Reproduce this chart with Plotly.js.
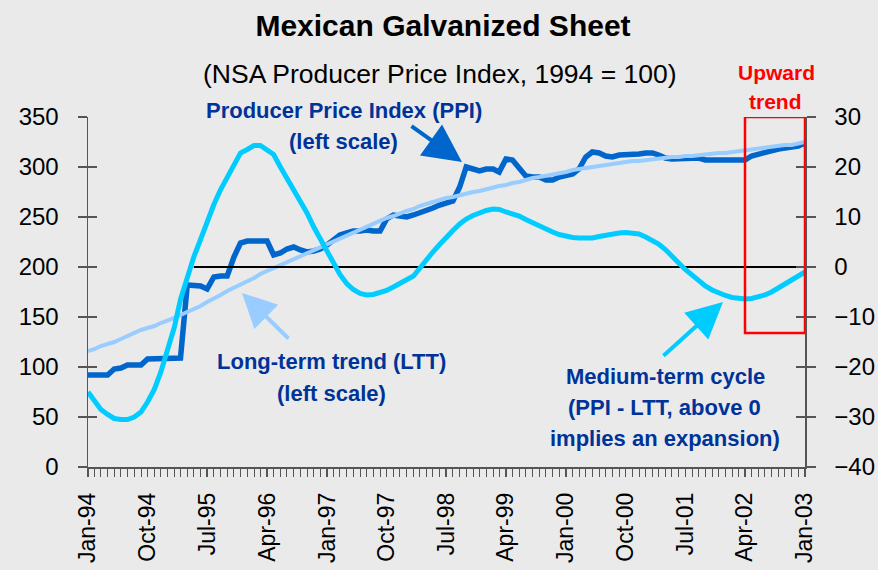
<!DOCTYPE html>
<html>
<head>
<meta charset="utf-8">
<script src="https://cdn.plot.ly/plotly-3.0.1.min.js"></script>
<style>html,body{margin:0;padding:0;background:#EAEAEA;}#chart{width:878px;height:570px;}</style>
</head>
<body>
<div id="chart"></div>
<script>
// ---- data (monthly, Jan-94 .. Jan-03) ----
const startYear = 1994;
const nMonths = 109;
const months = [];
for (let i = 0; i < nMonths; i++) {
  const y = startYear + Math.floor(i / 12), m = (i % 12) + 1;
  months.push(y + '-' + String(m).padStart(2, '0') + '-01');
}

// Producer Price Index (left scale)
const ppi = [
  92, 92, 92, 92, 98, 99, 102, 102, 102, 108, 108, 108,
  108, 108, 109, 182, 182, 181, 178, 190, 191, 191, 210, 224,
  226, 226, 226, 226, 212, 214, 218, 220, 217, 215, 216, 218,
  222, 228, 232, 234, 236, 236, 237, 236, 236, 248, 252, 251,
  250, 252, 254, 256, 259, 262, 264, 266, 280, 300, 298, 296,
  298, 298, 295, 308, 307, 298, 291, 290, 290, 287, 287, 290,
  292, 293, 298, 310, 315, 314, 311, 310, 312, 312, 312, 313,
  314, 314, 312, 309, 308, 308, 308, 309, 309, 307, 307, 307,
  307, 307, 307, 307, 311, 313, 315, 316, 318, 319, 320, 321,
  324
];

// Long-term trend (left scale)
const ltt = [
  116, 118, 121, 123, 125, 128, 131, 134, 137, 139, 141, 144,
  146, 149, 152, 155, 158, 161, 165, 168, 172, 176, 179, 182,
  186, 189, 193, 196, 199, 202, 205, 208, 211, 214, 217, 220,
  223, 226, 229, 232, 235, 238, 241, 244, 246, 249, 251, 254,
  256, 258, 261, 263, 265, 267, 269, 270, 272, 273, 275, 276,
  278, 279, 281, 282, 284, 285, 287, 289, 290, 291, 293, 294,
  295, 297, 298, 299, 300, 301, 302, 303, 304, 305, 306, 306,
  307, 308, 308, 309, 310, 310, 311, 311, 312, 312, 313, 314,
  314, 315, 316, 316, 317, 318, 319, 320, 321, 322, 322, 323,
  325
];

// Medium-term cycle, PPI - LTT (right scale)
const cycle = [
  -25, -27, -28.5, -29.5, -30.3, -30.5, -30.5, -30, -29, -27, -24.5, -21,
  -16.5, -12, -6.5, -2, 2, 5.5, 9, 12.5, 15.5, 18, 20.5, 22.8,
  23.5, 24.3, 24.3, 23.5, 22.5, 20, 17.8, 15.5, 13.2, 10.8, 8, 5.5,
  3, 0.5, -1.5, -3.3, -4.5, -5.3, -5.6, -5.5, -5.2, -4.7, -4, -3.3,
  -2.5, -1.8, -0.3, 1.5, 3, 4.5, 6, 7.3, 8.6, 9.6, 10.3, 10.9,
  11.3, 11.6, 11.5, 11, 10.6, 10.2, 9.5, 8.8, 8.1, 7.5, 7, 6.5,
  6.1, 5.9, 5.8, 5.8, 5.8, 6.1, 6.4, 6.7, 6.8, 6.9, 6.8, 6.6,
  6, 5.2, 4.6, 3.5, 2, 0.8, -0.5, -1.7, -2.9, -3.8, -4.6, -5.2,
  -5.7, -6.1, -6.3, -6.4, -6.3, -6, -5.6, -5, -4.2, -3.3, -2.6, -1.7,
  -1
];

// zero reference line on right scale
const zeroLineX = ['1995-05-01', '2003-01-01'];
const zeroLineY = [0, 0];

// "Upward trend" box (dates / right-scale values)
const boxX = ['2002-04-01', '2003-01-01'];
const boxY = [-13.2, 30];

// x tick labels (every 9 months)
const tickDates = ['1994-01-01','1994-10-01','1995-07-01','1996-04-01','1997-01-01','1997-10-01',
  '1998-07-01','1999-04-01','2000-01-01','2000-10-01','2001-07-01','2002-04-01','2003-01-01'];
const tickLabels = ['Jan-94','Oct-94','Jul-95','Apr-96','Jan-97','Oct-97','Jul-98','Apr-99',
  'Jan-00','Oct-00','Jul-01','Apr-02','Jan-03'];

const leftRange = [0, 350];
const rightRange = [-40, 30];

// ---- styling ----
const FONT = 'Liberation Sans, Arial, sans-serif';
const LABEL = '#003399';
const AX = '#555555';

const L = 88, R = 73, T = 117, B = 103, W = 878, H = 570;
const PW = W - L - R, PH = H - T - B;
const px = v => (v - L) / PW;
const py = v => (H - B - v) / PH;

const traces = [
  {x: zeroLineX, y: zeroLineY, yaxis: 'y2', mode: 'lines', line: {color: '#000000', width: 2},
   hoverinfo: 'skip', showlegend: false},
  {x: months, y: ppi, mode: 'lines', name: 'PPI', line: {color: '#0066CC', width: 5.5}, cliponaxis: false},
  {x: months, y: ltt, mode: 'lines', name: 'LTT', line: {color: '#99CCFF', width: 4}, cliponaxis: false},
  {x: months, y: cycle, yaxis: 'y2', mode: 'lines', name: 'Cycle', line: {color: '#00CCFF', width: 5}, cliponaxis: false},
  {x: [months[0]], y: [null], yaxis: 'y3', mode: 'lines', hoverinfo: 'skip', showlegend: false},
  {x: [months[0]], y: [null], yaxis: 'y4', mode: 'lines', hoverinfo: 'skip', showlegend: false}
];

function txt(x, y, t, size, color, bold) {
  return {xref: 'paper', yref: 'paper', x: px(x), y: py(y), xanchor: 'center', yanchor: 'middle',
    text: bold ? '<b>' + t + '</b>' : t, showarrow: false,
    font: {family: FONT, size: size, color: color}};
}
function arrow(tipX, tipY, tailX, tailY, color, size) {
  return {xref: 'paper', yref: 'paper', x: px(tipX), y: py(tipY), ax: tailX - tipX, ay: tailY - tipY,
    text: '', showarrow: true, arrowhead: 2, arrowsize: size, arrowwidth: 4, arrowcolor: color,
    standoff: 0, startstandoff: 0};
}

const annotations = [
  txt(440, 74, '(NSA Producer Price Index, 1994 = 100)', 26.5, '#000000', false),
  txt(344, 110, 'Producer Price Index (PPI)', 22, LABEL, true),
  txt(343, 141, '(left scale)', 22, LABEL, true),
  txt(331, 361, 'Long-term trend (LTT)', 22, LABEL, true),
  txt(331, 393, '(left scale)', 22, LABEL, true),
  txt(665, 376, 'Medium-term cycle', 22, LABEL, true),
  txt(664, 407, '(PPI - LTT, above 0', 22, LABEL, true),
  txt(665, 438, 'implies an expansion)', 22, LABEL, true),
  txt(776, 72, 'Upward', 21, '#FF0000', true),
  txt(775, 102, 'trend', 21, '#FF0000', true),
  arrow(462, 162, 410, 125, '#0066CC', 1.9),
  arrow(242, 293, 290, 340, '#99CCFF', 1.7),
  arrow(723, 302, 662, 357, '#00CCFF', 1.8)
];

const yTickCommon = {tickfont: {family: FONT, size: 24, color: '#000000'}, ticks: 'outside', ticklen: 9,
  tickwidth: 1.5, tickcolor: AX, showline: true, linecolor: AX, linewidth: 1.5, showgrid: false,
  zeroline: false, ticklabelstandoff: 14, fixedrange: true};

const layout = {
  width: W, height: H,
  margin: {l: L, r: R, t: T, b: B, pad: 0},
  paper_bgcolor: '#EAEAEA', plot_bgcolor: '#EAEAEA',
  showlegend: false,
  title: {text: '<b>Mexican Galvanized Sheet</b>', font: {family: FONT, size: 30, color: '#000000'},
    xref: 'paper', x: px(443), xanchor: 'center', yref: 'container', y: 1 - 25 / H, yanchor: 'middle'},
  xaxis: {type: 'date', range: [months[0], months[nMonths - 1]], tickvals: tickDates, ticktext: tickLabels,
    tickangle: -90, tickfont: {family: FONT, size: 23, color: '#000000'},
    ticks: 'outside', ticklen: 8, tickwidth: 1.5, tickcolor: AX,
    minor: {dtick: 'M1', tick0: months[0], ticks: 'outside', ticklen: 8, tickwidth: 1, tickcolor: AX},
    showline: true, linecolor: AX, linewidth: 1.5, showgrid: false, zeroline: false,
    ticklabelstandoff: 7, fixedrange: true},
  yaxis: Object.assign({range: leftRange, dtick: 50, tick0: 0, side: 'left'}, yTickCommon),
  yaxis2: Object.assign({range: rightRange, dtick: 10, tick0: 0, side: 'right', overlaying: 'y'}, yTickCommon),
  yaxis3: {range: leftRange, dtick: 50, tick0: 0, side: 'left', overlaying: 'y', ticks: 'inside', ticklen: 9,
    tickwidth: 1.5, tickcolor: AX, showticklabels: false, showline: false, showgrid: false, zeroline: false},
  yaxis4: {range: rightRange, dtick: 10, tick0: 0, side: 'right', overlaying: 'y', ticks: 'inside', ticklen: 9,
    tickwidth: 1.5, tickcolor: AX, showticklabels: false, showline: false, showgrid: false, zeroline: false},
  shapes: [{type: 'rect', xref: 'x', yref: 'y2', x0: boxX[0], x1: boxX[1], y0: boxY[0], y1: boxY[1],
    line: {color: '#FF0000', width: 2.5}, fillcolor: 'rgba(0,0,0,0)', layer: 'above'}],
  annotations: annotations
};

Plotly.newPlot('chart', traces, layout, {displayModeBar: false, staticPlot: true});
</script>
</body>
</html>
